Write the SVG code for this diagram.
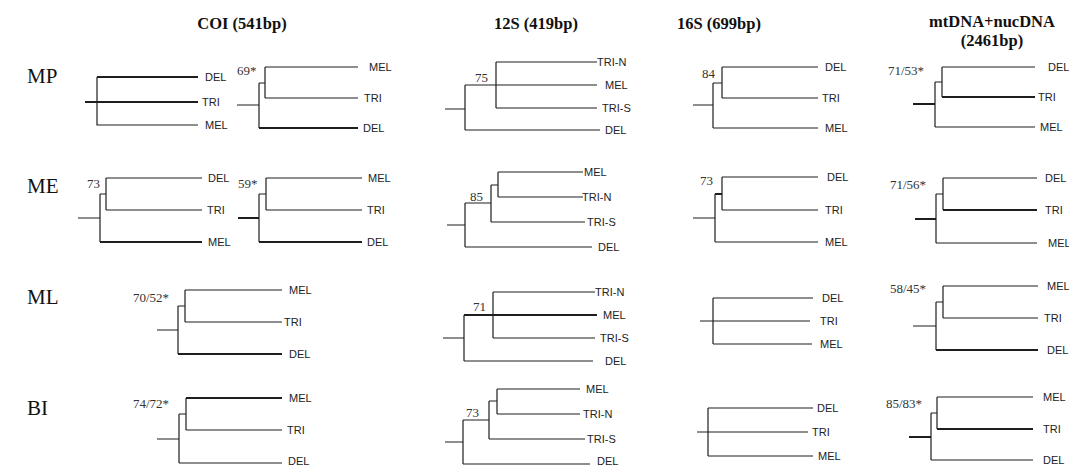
<svg xmlns="http://www.w3.org/2000/svg" width="1069" height="465" viewBox="0 0 1069 465">
<style>
.br{fill:none;stroke:#1e1e1e;stroke-width:1.2}
.tk{fill:none;stroke:#1e1e1e;stroke-width:2}
.lf{font-family:"Liberation Sans",Arial,sans-serif;font-size:11px;fill:#222}
.sp{font-family:"Liberation Serif","Times New Roman",serif;font-size:13px;fill:#333}
.hd{font-family:"Liberation Serif","Times New Roman",serif;font-size:16.5px;font-weight:bold;fill:#111;text-anchor:middle}
.rw{font-family:"Liberation Serif","Times New Roman",serif;font-size:21px;fill:#111}
</style>
<rect width="1069" height="465" fill="#fff"/>
<g id="headers">
<text class="hd" x="242" y="29">COI (541bp)</text>
<text class="hd" x="536" y="29">12S (419bp)</text>
<text class="hd" x="719" y="29">16S (699bp)</text>
<text class="hd" x="992" y="27">mtDNA+nucDNA</text>
<text class="hd" x="992" y="46">(2461bp)</text>
</g>
<g id="row-labels">
<text class="rw" x="27" y="83">MP</text>
<text class="rw" x="27" y="193">ME</text>
<text class="rw" x="27" y="304">ML</text>
<text class="rw" x="27" y="415">BI</text>
</g>
<g id="connectors">
<g id="br-coi-mp-1"><path class="br" d="M97,77V125H198"/><path class="tk" d="M85,102H198M97,77H198"/></g>
<g id="br-coi-mp-2"><path class="br" d="M237,105H259M259,83V128M259,83H265M265,67V98M265,67H358M265,98H358"/><path class="tk" d="M259,128H358"/></g>
<g id="br-12s-mp"><path class="br" d="M445,109H465M465,85V130M465,130H600M465,85H597M496,62V108M496,62H597M496,108H597"/></g>
<g id="br-16s-mp"><path class="br" d="M693,105H713M713,83V128M713,83H722M722,67V98M722,67H818M722,98H818M713,128H818"/></g>
<g id="br-mt-mp"><path class="br" d="M935,82V127M935,82H942M942,67V97M942,67H1035M935,127H1035"/><path class="tk" d="M913,104H935M942,97H1035"/></g>
<g id="br-coi-me-1"><path class="br" d="M78,218H100M100,194V242M100,194H106M106,178V210M106,178H202M106,210H202"/><path class="tk" d="M100,242H202"/></g>
<g id="br-coi-me-2"><path class="br" d="M259,194V242M259,194H266M266,178V210M266,178H362M266,210H362"/><path class="tk" d="M238,218H259M259,242H362"/></g>
<g id="br-12s-me"><path class="br" d="M447,225H465M465,203V247M465,247H592M465,203H491M491,185V222M491,222H585M491,185H498M498,172V197M498,172H583M498,197H583"/></g>
<g id="br-16s-me"><path class="br" d="M693,218H715M715,194V242M722,177V210M722,177H818M722,210H818M715,242H818"/><path class="tk" d="M715,194H722"/></g>
<g id="br-mt-me"><path class="br" d="M936,194V243M936,194H943M943,178V210M943,178H1037M936,243H1037"/><path class="tk" d="M915,219H936M943,210H1037"/></g>
<g id="br-coi-ml"><path class="br" d="M157,330H178M178,306V354M178,306H185M185,290V322M185,290H282M185,322H282"/><path class="tk" d="M178,354H282"/></g>
<g id="br-12s-ml"><path class="br" d="M443,338H464M464,315V361M464,361H593M493,292V338M493,292H595M493,338H595"/><path class="tk" d="M464,315H597"/></g>
<g id="br-16s-ml"><path class="br" d="M700,321H810M713,298V344M713,298H813M713,344H812"/></g>
<g id="br-mt-ml"><path class="br" d="M913,326H936M936,302V350M936,302H943M943,286V318M943,286H1038M943,318H1038"/><path class="tk" d="M936,350H1038"/></g>
<g id="br-coi-bi"><path class="br" d="M157,439H179M179,414V463M179,414H186M186,398V430M186,430H282M179,463H282"/><path class="tk" d="M186,398H282"/></g>
<g id="br-12s-bi"><path class="br" d="M445,442H463M463,420V464M463,464H590M463,420H489M489,401V439M489,439H585M489,401H497M497,389V414M497,389H580M497,414H580"/></g>
<g id="br-16s-bi"><path class="br" d="M697,432H808M708,408V456M708,408H813M708,456H813"/></g>
<g id="br-mt-bi"><path class="br" d="M931,413V460M931,413H937M937,397V429M937,397H1033M931,460H1033"/><path class="tk" d="M909,437H931M937,429H1033"/></g>
</g>
<g id="tree-coi-mp-1"><text class="lf" x="205" y="81">DEL</text><text class="lf" x="202" y="106">TRI</text><text class="lf" x="205" y="129">MEL</text></g>
<g id="tree-coi-mp-2"><text class="sp" x="237" y="75">69*</text><text class="lf" x="369" y="71">MEL</text><text class="lf" x="364" y="102">TRI</text><text class="lf" x="363" y="132">DEL</text></g>
<g id="tree-12s-mp"><text class="sp" x="475" y="82">75</text><text class="lf" x="597" y="66">TRI-N</text><text class="lf" x="605" y="89">MEL</text><text class="lf" x="602" y="112">TRI-S</text><text class="lf" x="605" y="134">DEL</text></g>
<g id="tree-16s-mp"><text class="sp" x="702" y="78">84</text><text class="lf" x="825" y="71">DEL</text><text class="lf" x="822" y="102">TRI</text><text class="lf" x="825" y="132">MEL</text></g>
<g id="tree-mt-mp"><text class="sp" x="888" y="75">71/53*</text><text class="lf" x="1048" y="71">DEL</text><text class="lf" x="1038" y="101">TRI</text><text class="lf" x="1040" y="131">MEL</text></g>
<g id="tree-coi-me-1"><text class="sp" x="87" y="188">73</text><text class="lf" x="208" y="182">DEL</text><text class="lf" x="207" y="214">TRI</text><text class="lf" x="208" y="246">MEL</text></g>
<g id="tree-coi-me-2"><text class="sp" x="238" y="188">59*</text><text class="lf" x="368" y="182">MEL</text><text class="lf" x="367" y="214">TRI</text><text class="lf" x="367" y="246">DEL</text></g>
<g id="tree-12s-me"><text class="sp" x="470" y="201">85</text><text class="lf" x="584" y="176">MEL</text><text class="lf" x="582" y="201">TRI-N</text><text class="lf" x="587" y="226">TRI-S</text><text class="lf" x="598" y="251">DEL</text></g>
<g id="tree-16s-me"><text class="sp" x="700" y="185">73</text><text class="lf" x="827" y="181">DEL</text><text class="lf" x="825" y="214">TRI</text><text class="lf" x="825" y="246">MEL</text></g>
<g id="tree-mt-me"><text class="sp" x="890" y="189">71/56*</text><text class="lf" x="1045" y="182">DEL</text><text class="lf" x="1045" y="214">TRI</text><text class="lf" x="1048" y="247">MEL</text></g>
<g id="tree-coi-ml"><text class="sp" x="133" y="302">70/52*</text><text class="lf" x="289" y="294">MEL</text><text class="lf" x="284" y="326">TRI</text><text class="lf" x="289" y="358">DEL</text></g>
<g id="tree-12s-ml"><text class="sp" x="473" y="311">71</text><text class="lf" x="595" y="296">TRI-N</text><text class="lf" x="603" y="319">MEL</text><text class="lf" x="600" y="342">TRI-S</text><text class="lf" x="605" y="365">DEL</text></g>
<g id="tree-16s-ml"><text class="lf" x="822" y="302">DEL</text><text class="lf" x="820" y="325">TRI</text><text class="lf" x="820" y="348">MEL</text></g>
<g id="tree-mt-ml"><text class="sp" x="890" y="293">58/45*</text><text class="lf" x="1047" y="290">MEL</text><text class="lf" x="1044" y="322">TRI</text><text class="lf" x="1047" y="354">DEL</text></g>
<g id="tree-coi-bi"><text class="sp" x="133" y="408">74/72*</text><text class="lf" x="289" y="402">MEL</text><text class="lf" x="287" y="434">TRI</text><text class="lf" x="288" y="465">DEL</text></g>
<g id="tree-12s-bi"><text class="sp" x="466" y="417">73</text><text class="lf" x="586" y="393">MEL</text><text class="lf" x="583" y="418">TRI-N</text><text class="lf" x="587" y="443">TRI-S</text><text class="lf" x="597" y="465">DEL</text></g>
<g id="tree-16s-bi"><text class="lf" x="817" y="412">DEL</text><text class="lf" x="812" y="436">TRI</text><text class="lf" x="818" y="460">MEL</text></g>
<g id="tree-mt-bi"><text class="sp" x="886" y="408">85/83*</text><text class="lf" x="1043" y="401">MEL</text><text class="lf" x="1043" y="433">TRI</text><text class="lf" x="1043" y="464">DEL</text></g>
</svg>
